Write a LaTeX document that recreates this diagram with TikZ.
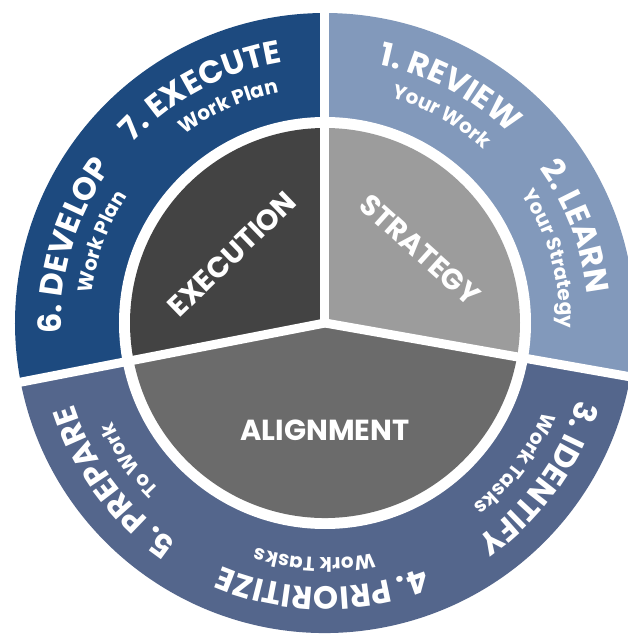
\documentclass[tikz,border=0pt]{standalone}
\usepackage{fontspec}
\setmainfont{Poppins}
\usetikzlibrary{decorations.text}

\definecolor{planblue}{HTML}{1D4A7F}
\definecolor{reviewblue}{HTML}{8299BB}
\definecolor{taskblue}{HTML}{54668C}
\definecolor{execgray}{HTML}{434343}
\definecolor{stratgray}{HTML}{9C9C9C}
\definecolor{aligngray}{HTML}{6B6B6B}

\newcommand{\steptitle}{\bfseries\fontsize{32}{32}\selectfont\color{white}}
\newcommand{\stepnote}{\bfseries\fontsize{20}{20}\selectfont\color{white}}
\newcommand{\corefont}{\bfseries\fontsize{29}{29}\selectfont}

\begin{document}
\begin{tikzpicture}[x=1pt,y=1pt,
    steplabel/.style={decorate,decoration={text along path,text align=center,
      text={|\steptitle|#1}}},
    stepnote/.style={decorate,decoration={text along path,text align=center,
      text={|\stepnote|#1}}},
    core/.style={text=white,font=\corefont}]
  \useasboundingbox (-325,-312) rectangle (302,323);
  \coordinate (c) at (0,0);

  % outer ring of steps
  \fill[reviewblue] (c) -- (90:310) arc[start angle=90,end angle=-10,radius=310] -- cycle;
  \fill[planblue] (c) -- (90:310) arc[start angle=90,end angle=191,radius=310] -- cycle;
  \fill[taskblue] (c) -- (191:310) arc[start angle=191,end angle=350,radius=310] -- cycle;
  \fill[white] (c) circle[radius=206];

  % inner pie
  \fill[stratgray] (c) -- (90:195) arc[start angle=90,end angle=-10,radius=195] -- cycle;
  \fill[execgray] (c) -- (90:195) arc[start angle=90,end angle=191,radius=195] -- cycle;
  \fill[aligngray] (c) -- (191:195) arc[start angle=191,end angle=350,radius=195] -- cycle;

  % white cuts
  \draw[white,line width=9] (c) -- (90:320);
  \draw[white,line width=9] (c) -- (191:320);
  \draw[white,line width=9] (c) -- (350:320);

  % step titles, clockwise
  \path[steplabel={1. REVIEW}] (112:264) arc[start angle=112,end angle=12,radius=264];
  \path[steplabel={2. LEARN}] (71:264) arc[start angle=71,end angle=-29,radius=264];
  \path[steplabel={3. IDENTIFY}] (14:264) arc[start angle=14,end angle=-86,radius=264];
  \path[steplabel={4. PRIORITIZE}] (-30:264) arc[start angle=-30,end angle=-151,radius=264];
  \path[steplabel={5. PREPARE}] (267:264) arc[start angle=267,end angle=167,radius=264];
  \path[steplabel={6. DEVELOP}] (213:264) arc[start angle=213,end angle=113,radius=264];
  \path[steplabel={7. EXECUTE}] (168:264) arc[start angle=168,end angle=68,radius=264];

  % step notes
  \path[stepnote={Your Work}] (110:235) arc[start angle=110,end angle=11,radius=235];
  \path[stepnote={Your Strategy}] (66:235) arc[start angle=66,end angle=-34,radius=235];
  \path[stepnote={Work Tasks}] (13:235) arc[start angle=13,end angle=-86,radius=235];
  \path[stepnote={Work Tasks}] (-43:235) arc[start angle=-43,end angle=-142,radius=235];
  \path[stepnote={To Work}] (265:235) arc[start angle=265,end angle=165,radius=235];
  \path[stepnote={Work Plan}] (210:235) arc[start angle=210,end angle=110,radius=235];
  \path[stepnote={Work Plan}] (164:235) arc[start angle=164,end angle=64,radius=235];

  % core areas
  \node[core,rotate=44] (execution) at (-93,69) {EXECUTION};
  \node[core,rotate=-42] (strategy) at (95,73) {STRATEGY};
  \node[core] (alignment) at (0,-107) {ALIGNMENT};
\end{tikzpicture}
\end{document}
